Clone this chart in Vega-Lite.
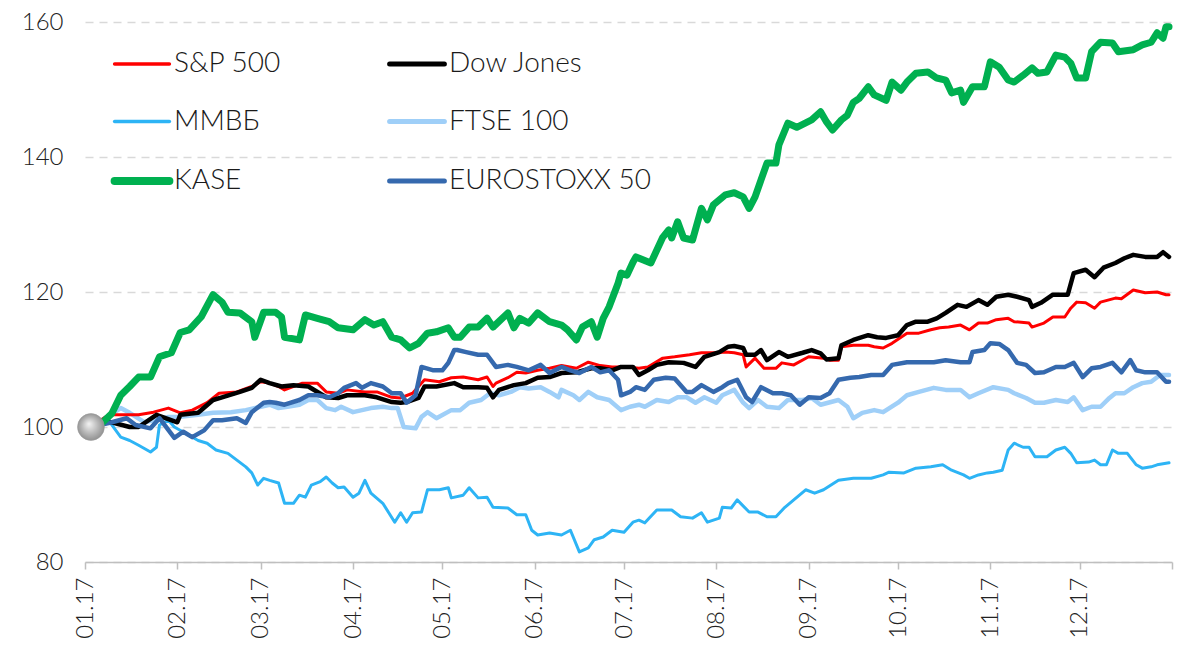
{
"$schema":"https://vega.github.io/schema/vega-lite/v6.json",
"width":1087,"height":540,
"autosize":{"type":"none"},
"padding":{"left":85,"top":22,"right":23,"bottom":86},
"background":"#ffffff",
"config":{"view":{"stroke":null},"font":"Lato"},
"datasets":{
"ka":[{"d":"2017-01-03","v":100},{"d":"2017-01-06","v":100.3},{"d":"2017-01-10","v":102},{"d":"2017-01-13","v":104.7},{"d":"2017-01-16","v":106},{"d":"2017-01-19","v":107.4},{"d":"2017-01-23","v":107.4},{"d":"2017-01-26","v":110.4},{"d":"2017-01-30","v":111},{"d":"2017-02-02","v":114},{"d":"2017-02-05","v":114.4},{"d":"2017-02-09","v":116.3},{"d":"2017-02-13","v":119.6},{"d":"2017-02-16","v":118.5},{"d":"2017-02-18","v":117},{"d":"2017-02-22","v":116.9},{"d":"2017-02-26","v":115.6},{"d":"2017-02-27","v":113.3},{"d":"2017-03-02","v":117},{"d":"2017-03-06","v":117},{"d":"2017-03-08","v":116.3},{"d":"2017-03-09","v":113.3},{"d":"2017-03-14","v":112.9},{"d":"2017-03-16","v":116.6},{"d":"2017-03-20","v":116.1},{"d":"2017-03-24","v":115.6},{"d":"2017-03-27","v":114.7},{"d":"2017-04-01","v":114.4},{"d":"2017-04-05","v":115.9},{"d":"2017-04-08","v":115.1},{"d":"2017-04-11","v":115.6},{"d":"2017-04-14","v":113.3},{"d":"2017-04-17","v":112.9},{"d":"2017-04-20","v":111.7},{"d":"2017-04-23","v":112.4},{"d":"2017-04-26","v":113.9},{"d":"2017-04-29","v":114.1},{"d":"2017-05-03","v":114.7},{"d":"2017-05-05","v":113.3},{"d":"2017-05-07","v":113.3},{"d":"2017-05-10","v":114.8},{"d":"2017-05-13","v":114.8},{"d":"2017-05-16","v":116.1},{"d":"2017-05-18","v":114.8},{"d":"2017-05-23","v":116.9},{"d":"2017-05-25","v":114.7},{"d":"2017-05-27","v":116.1},{"d":"2017-05-30","v":115.4},{"d":"2017-06-02","v":116.9},{"d":"2017-06-06","v":115.6},{"d":"2017-06-10","v":115.1},{"d":"2017-06-12","v":114.4},{"d":"2017-06-15","v":112.9},{"d":"2017-06-17","v":114.8},{"d":"2017-06-20","v":115.6},{"d":"2017-06-22","v":113.3},{"d":"2017-06-24","v":116.1},{"d":"2017-06-26","v":117.8},{"d":"2017-06-29","v":121.3},{"d":"2017-06-30","v":122.8},{"d":"2017-07-02","v":122.5},{"d":"2017-07-04","v":124.4},{"d":"2017-07-05","v":125.2},{"d":"2017-07-10","v":124.3},{"d":"2017-07-14","v":128.1},{"d":"2017-07-16","v":129.2},{"d":"2017-07-17","v":128},{"d":"2017-07-19","v":130.4},{"d":"2017-07-21","v":128},{"d":"2017-07-24","v":127.7},{"d":"2017-07-27","v":132.4},{"d":"2017-07-29","v":130.7},{"d":"2017-07-31","v":132.9},{"d":"2017-08-04","v":134.4},{"d":"2017-08-07","v":134.7},{"d":"2017-08-10","v":134.1},{"d":"2017-08-12","v":132.4},{"d":"2017-08-14","v":134.1},{"d":"2017-08-16","v":136.6},{"d":"2017-08-18","v":139.1},{"d":"2017-08-21","v":139.1},{"d":"2017-08-22","v":141.8},{"d":"2017-08-25","v":145},{"d":"2017-08-28","v":144.4},{"d":"2017-09-02","v":145.5},{"d":"2017-09-05","v":146.7},{"d":"2017-09-07","v":145.2},{"d":"2017-09-09","v":144},{"d":"2017-09-12","v":145.5},{"d":"2017-09-14","v":146.2},{"d":"2017-09-16","v":148.1},{"d":"2017-09-18","v":148.7},{"d":"2017-09-21","v":150.4},{"d":"2017-09-23","v":149.2},{"d":"2017-09-27","v":148.4},{"d":"2017-09-29","v":151.1},{"d":"2017-10-02","v":149.9},{"d":"2017-10-04","v":151.1},{"d":"2017-10-07","v":152.4},{"d":"2017-10-11","v":152.6},{"d":"2017-10-14","v":151.7},{"d":"2017-10-17","v":151.4},{"d":"2017-10-19","v":149.5},{"d":"2017-10-22","v":149.9},{"d":"2017-10-23","v":148.1},{"d":"2017-10-26","v":150.4},{"d":"2017-10-30","v":150.4},{"d":"2017-11-01","v":154.1},{"d":"2017-11-04","v":153.3},{"d":"2017-11-07","v":151.4},{"d":"2017-11-09","v":151.1},{"d":"2017-11-12","v":152.1},{"d":"2017-11-15","v":153.2},{"d":"2017-11-17","v":152.4},{"d":"2017-11-20","v":152.6},{"d":"2017-11-23","v":155.1},{"d":"2017-11-26","v":154.8},{"d":"2017-11-28","v":153.9},{"d":"2017-11-30","v":151.7},{"d":"2017-12-03","v":151.7},{"d":"2017-12-05","v":155.6},{"d":"2017-12-08","v":157},{"d":"2017-12-12","v":156.9},{"d":"2017-12-14","v":155.6},{"d":"2017-12-19","v":155.9},{"d":"2017-12-22","v":156.6},{"d":"2017-12-25","v":157},{"d":"2017-12-27","v":158.4},{"d":"2017-12-29","v":157.6},{"d":"2017-12-30","v":159.3},{"d":"2017-12-31","v":159.3}],
"sp":[{"d":"2017-01-03","v":100},{"d":"2017-01-09","v":101.8},{"d":"2017-01-19","v":101.8},{"d":"2017-01-24","v":102.2},{"d":"2017-01-29","v":102.8},{"d":"2017-02-02","v":102.1},{"d":"2017-02-06","v":102.5},{"d":"2017-02-11","v":103.6},{"d":"2017-02-15","v":105},{"d":"2017-02-21","v":105.2},{"d":"2017-02-26","v":106},{"d":"2017-03-01","v":106.7},{"d":"2017-03-04","v":106.5},{"d":"2017-03-07","v":106},{"d":"2017-03-09","v":105.5},{"d":"2017-03-15","v":106.5},{"d":"2017-03-20","v":106.5},{"d":"2017-03-23","v":105.2},{"d":"2017-03-27","v":105},{"d":"2017-03-30","v":105.5},{"d":"2017-04-05","v":105.2},{"d":"2017-04-09","v":105.2},{"d":"2017-04-14","v":104.4},{"d":"2017-04-17","v":104.3},{"d":"2017-04-21","v":105},{"d":"2017-04-25","v":107},{"d":"2017-04-30","v":106.7},{"d":"2017-05-04","v":107.3},{"d":"2017-05-08","v":107.4},{"d":"2017-05-13","v":107},{"d":"2017-05-16","v":107.4},{"d":"2017-05-18","v":106},{"d":"2017-05-19","v":106.5},{"d":"2017-05-23","v":107.3},{"d":"2017-05-26","v":108.1},{"d":"2017-05-29","v":108},{"d":"2017-06-02","v":108.4},{"d":"2017-06-06","v":108.7},{"d":"2017-06-10","v":109.1},{"d":"2017-06-15","v":108.7},{"d":"2017-06-19","v":109.6},{"d":"2017-06-23","v":109.1},{"d":"2017-06-27","v":108.9},{"d":"2017-07-02","v":108.9},{"d":"2017-07-06","v":108.7},{"d":"2017-07-09","v":108.9},{"d":"2017-07-14","v":110.2},{"d":"2017-07-18","v":110.4},{"d":"2017-07-23","v":110.7},{"d":"2017-07-27","v":111},{"d":"2017-08-01","v":111},{"d":"2017-08-04","v":111.1},{"d":"2017-08-07","v":111},{"d":"2017-08-10","v":110.7},{"d":"2017-08-11","v":108.9},{"d":"2017-08-14","v":110.2},{"d":"2017-08-17","v":108.7},{"d":"2017-08-21","v":108.7},{"d":"2017-08-23","v":109.5},{"d":"2017-08-27","v":109.2},{"d":"2017-09-01","v":110.4},{"d":"2017-09-06","v":110.2},{"d":"2017-09-08","v":109.9},{"d":"2017-09-11","v":109.9},{"d":"2017-09-12","v":111.9},{"d":"2017-09-16","v":112.1},{"d":"2017-09-21","v":112.1},{"d":"2017-09-23","v":111.9},{"d":"2017-09-26","v":111.7},{"d":"2017-09-29","v":112.4},{"d":"2017-10-04","v":113.9},{"d":"2017-10-08","v":113.9},{"d":"2017-10-12","v":114.4},{"d":"2017-10-15","v":114.7},{"d":"2017-10-18","v":114.8},{"d":"2017-10-22","v":115.1},{"d":"2017-10-25","v":114.4},{"d":"2017-10-28","v":115.4},{"d":"2017-10-31","v":115.4},{"d":"2017-11-03","v":115.9},{"d":"2017-11-07","v":116.1},{"d":"2017-11-09","v":115.6},{"d":"2017-11-14","v":115.4},{"d":"2017-11-15","v":114.8},{"d":"2017-11-19","v":115.4},{"d":"2017-11-22","v":116.3},{"d":"2017-11-26","v":116.3},{"d":"2017-11-28","v":117.6},{"d":"2017-11-30","v":118.5},{"d":"2017-12-03","v":118.4},{"d":"2017-12-06","v":117.6},{"d":"2017-12-08","v":118.5},{"d":"2017-12-13","v":119.1},{"d":"2017-12-15","v":119},{"d":"2017-12-19","v":120.3},{"d":"2017-12-23","v":119.9},{"d":"2017-12-27","v":120},{"d":"2017-12-30","v":119.6},{"d":"2017-12-31","v":119.6}],
"dj":[{"d":"2017-01-03","v":100},{"d":"2017-01-09","v":100.8},{"d":"2017-01-16","v":100},{"d":"2017-01-19","v":100},{"d":"2017-01-25","v":101.8},{"d":"2017-02-01","v":100.7},{"d":"2017-02-02","v":101.8},{"d":"2017-02-08","v":102.1},{"d":"2017-02-13","v":104},{"d":"2017-02-16","v":104.4},{"d":"2017-02-22","v":105.2},{"d":"2017-02-26","v":105.8},{"d":"2017-03-01","v":107},{"d":"2017-03-04","v":106.5},{"d":"2017-03-08","v":106},{"d":"2017-03-12","v":106.2},{"d":"2017-03-17","v":106},{"d":"2017-03-23","v":104.4},{"d":"2017-03-27","v":104.3},{"d":"2017-03-30","v":104.7},{"d":"2017-04-05","v":104.7},{"d":"2017-04-09","v":104.4},{"d":"2017-04-14","v":103.7},{"d":"2017-04-17","v":103.6},{"d":"2017-04-19","v":103.7},{"d":"2017-04-23","v":104.3},{"d":"2017-04-25","v":106},{"d":"2017-04-29","v":106},{"d":"2017-05-05","v":106.5},{"d":"2017-05-08","v":105.9},{"d":"2017-05-13","v":105.9},{"d":"2017-05-16","v":105.8},{"d":"2017-05-18","v":104.4},{"d":"2017-05-20","v":105.5},{"d":"2017-05-25","v":106.2},{"d":"2017-05-29","v":106.5},{"d":"2017-06-02","v":107.3},{"d":"2017-06-06","v":107.4},{"d":"2017-06-10","v":108},{"d":"2017-06-15","v":108.1},{"d":"2017-06-20","v":108.7},{"d":"2017-06-23","v":108.7},{"d":"2017-06-27","v":108.4},{"d":"2017-06-30","v":108.9},{"d":"2017-07-04","v":108.9},{"d":"2017-07-06","v":107.7},{"d":"2017-07-09","v":108.4},{"d":"2017-07-12","v":109.2},{"d":"2017-07-16","v":109.6},{"d":"2017-07-21","v":109.5},{"d":"2017-07-25","v":108.9},{"d":"2017-07-28","v":110.4},{"d":"2017-08-02","v":111.1},{"d":"2017-08-05","v":111.9},{"d":"2017-08-07","v":112},{"d":"2017-08-10","v":111.7},{"d":"2017-08-11","v":110.7},{"d":"2017-08-14","v":110.7},{"d":"2017-08-16","v":111.4},{"d":"2017-08-18","v":109.9},{"d":"2017-08-22","v":111.1},{"d":"2017-08-25","v":110.4},{"d":"2017-08-30","v":111},{"d":"2017-09-02","v":111.4},{"d":"2017-09-05","v":110.9},{"d":"2017-09-07","v":110},{"d":"2017-09-11","v":110.2},{"d":"2017-09-12","v":112.1},{"d":"2017-09-16","v":112.9},{"d":"2017-09-21","v":113.6},{"d":"2017-09-24","v":113.3},{"d":"2017-09-27","v":113.2},{"d":"2017-10-01","v":113.6},{"d":"2017-10-04","v":115.1},{"d":"2017-10-07","v":115.6},{"d":"2017-10-11","v":115.6},{"d":"2017-10-14","v":116.1},{"d":"2017-10-17","v":116.9},{"d":"2017-10-21","v":118.1},{"d":"2017-10-24","v":117.8},{"d":"2017-10-28","v":118.8},{"d":"2017-10-31","v":118.1},{"d":"2017-11-03","v":119.3},{"d":"2017-11-07","v":119.6},{"d":"2017-11-10","v":119.3},{"d":"2017-11-14","v":118.8},{"d":"2017-11-15","v":117.8},{"d":"2017-11-18","v":118.4},{"d":"2017-11-22","v":119.6},{"d":"2017-11-27","v":119.6},{"d":"2017-11-29","v":122.8},{"d":"2017-12-03","v":123.3},{"d":"2017-12-06","v":122.2},{"d":"2017-12-09","v":123.6},{"d":"2017-12-13","v":124.3},{"d":"2017-12-16","v":125},{"d":"2017-12-19","v":125.5},{"d":"2017-12-23","v":125.2},{"d":"2017-12-27","v":125.2},{"d":"2017-12-29","v":125.9},{"d":"2017-12-31","v":125.2}],
"eu":[{"d":"2017-01-03","v":100},{"d":"2017-01-10","v":100.7},{"d":"2017-01-15","v":101.3},{"d":"2017-01-18","v":100.3},{"d":"2017-01-23","v":99.8},{"d":"2017-01-26","v":101.3},{"d":"2017-01-31","v":98.4},{"d":"2017-02-03","v":99.3},{"d":"2017-02-06","v":98.5},{"d":"2017-02-10","v":99.5},{"d":"2017-02-13","v":101},{"d":"2017-02-16","v":101},{"d":"2017-02-21","v":101.3},{"d":"2017-02-24","v":100.6},{"d":"2017-02-26","v":102.2},{"d":"2017-03-02","v":103.6},{"d":"2017-03-04","v":103.7},{"d":"2017-03-06","v":103.6},{"d":"2017-03-09","v":103.3},{"d":"2017-03-14","v":104},{"d":"2017-03-17","v":104.7},{"d":"2017-03-20","v":104.7},{"d":"2017-03-24","v":104.4},{"d":"2017-03-27","v":105},{"d":"2017-03-29","v":105.8},{"d":"2017-04-02","v":106.5},{"d":"2017-04-04","v":105.8},{"d":"2017-04-07","v":106.5},{"d":"2017-04-11","v":106},{"d":"2017-04-14","v":105},{"d":"2017-04-17","v":105},{"d":"2017-04-19","v":103.6},{"d":"2017-04-22","v":104.7},{"d":"2017-04-24","v":108.9},{"d":"2017-04-28","v":108.4},{"d":"2017-05-01","v":108.4},{"d":"2017-05-03","v":109.5},{"d":"2017-05-05","v":111.4},{"d":"2017-05-06","v":111.4},{"d":"2017-05-09","v":111.1},{"d":"2017-05-13","v":110.7},{"d":"2017-05-16","v":110.7},{"d":"2017-05-19","v":108.9},{"d":"2017-05-23","v":109.2},{"d":"2017-05-26","v":108.9},{"d":"2017-05-30","v":108.4},{"d":"2017-06-03","v":109.2},{"d":"2017-06-06","v":108},{"d":"2017-06-10","v":108.9},{"d":"2017-06-13","v":108.4},{"d":"2017-06-16","v":108},{"d":"2017-06-20","v":108.9},{"d":"2017-06-23","v":108.1},{"d":"2017-06-26","v":108.4},{"d":"2017-06-29","v":107},{"d":"2017-06-30","v":104.7},{"d":"2017-07-03","v":105.2},{"d":"2017-07-05","v":105.9},{"d":"2017-07-08","v":105.5},{"d":"2017-07-11","v":107},{"d":"2017-07-15","v":107.3},{"d":"2017-07-18","v":107.2},{"d":"2017-07-22","v":105.2},{"d":"2017-07-24","v":105.2},{"d":"2017-07-27","v":106.2},{"d":"2017-07-31","v":105.2},{"d":"2017-08-03","v":105.9},{"d":"2017-08-05","v":106.5},{"d":"2017-08-08","v":107},{"d":"2017-08-11","v":104.4},{"d":"2017-08-13","v":103.7},{"d":"2017-08-16","v":105.9},{"d":"2017-08-20","v":105},{"d":"2017-08-23","v":105},{"d":"2017-08-26","v":104.7},{"d":"2017-08-29","v":103.3},{"d":"2017-09-01","v":104.4},{"d":"2017-09-05","v":104.3},{"d":"2017-09-08","v":105},{"d":"2017-09-11","v":107},{"d":"2017-09-15","v":107.3},{"d":"2017-09-18","v":107.4},{"d":"2017-09-22","v":107.7},{"d":"2017-09-26","v":107.7},{"d":"2017-09-29","v":109.2},{"d":"2017-10-04","v":109.6},{"d":"2017-10-08","v":109.6},{"d":"2017-10-13","v":109.6},{"d":"2017-10-17","v":109.9},{"d":"2017-10-22","v":109.6},{"d":"2017-10-25","v":109.6},{"d":"2017-10-26","v":111.1},{"d":"2017-10-30","v":111.4},{"d":"2017-11-01","v":112.4},{"d":"2017-11-04","v":112.3},{"d":"2017-11-07","v":111.4},{"d":"2017-11-10","v":109.5},{"d":"2017-11-13","v":109.2},{"d":"2017-11-16","v":108},{"d":"2017-11-19","v":108.1},{"d":"2017-11-23","v":108.9},{"d":"2017-11-26","v":108.9},{"d":"2017-11-29","v":109.5},{"d":"2017-12-02","v":107.4},{"d":"2017-12-05","v":108.7},{"d":"2017-12-08","v":108.9},{"d":"2017-12-12","v":109.5},{"d":"2017-12-15","v":108.1},{"d":"2017-12-18","v":109.9},{"d":"2017-12-20","v":108.4},{"d":"2017-12-23","v":108.1},{"d":"2017-12-27","v":108.1},{"d":"2017-12-30","v":106.7},{"d":"2017-12-31","v":106.7}],
"ft":[{"d":"2017-01-03","v":100},{"d":"2017-01-13","v":102.8},{"d":"2017-01-16","v":102.1},{"d":"2017-01-21","v":100.7},{"d":"2017-01-29","v":101.5},{"d":"2017-02-02","v":101.5},{"d":"2017-02-08","v":101.8},{"d":"2017-02-13","v":102.1},{"d":"2017-02-19","v":102.2},{"d":"2017-02-24","v":102.5},{"d":"2017-03-01","v":103},{"d":"2017-03-04","v":103.3},{"d":"2017-03-07","v":102.8},{"d":"2017-03-10","v":103},{"d":"2017-03-14","v":103.3},{"d":"2017-03-17","v":104},{"d":"2017-03-20","v":104},{"d":"2017-03-23","v":102.8},{"d":"2017-03-26","v":102.5},{"d":"2017-03-28","v":103},{"d":"2017-04-01","v":102.2},{"d":"2017-04-04","v":102.5},{"d":"2017-04-07","v":102.8},{"d":"2017-04-11","v":103},{"d":"2017-04-14","v":102.8},{"d":"2017-04-16","v":102.8},{"d":"2017-04-18","v":100},{"d":"2017-04-22","v":99.8},{"d":"2017-04-24","v":101.5},{"d":"2017-04-26","v":102.2},{"d":"2017-04-29","v":101.3},{"d":"2017-05-04","v":102.5},{"d":"2017-05-07","v":102.5},{"d":"2017-05-10","v":103.6},{"d":"2017-05-14","v":104},{"d":"2017-05-17","v":105},{"d":"2017-05-20","v":104.7},{"d":"2017-05-24","v":105.2},{"d":"2017-05-27","v":105.9},{"d":"2017-05-30","v":105.7},{"d":"2017-06-03","v":105.9},{"d":"2017-06-06","v":105.2},{"d":"2017-06-09","v":104.4},{"d":"2017-06-10","v":105.5},{"d":"2017-06-14","v":104.7},{"d":"2017-06-16","v":104},{"d":"2017-06-19","v":105.2},{"d":"2017-06-22","v":104.4},{"d":"2017-06-26","v":104},{"d":"2017-06-30","v":102.5},{"d":"2017-07-03","v":103},{"d":"2017-07-06","v":103.3},{"d":"2017-07-08","v":103},{"d":"2017-07-12","v":104},{"d":"2017-07-16","v":103.7},{"d":"2017-07-19","v":104.4},{"d":"2017-07-22","v":104.4},{"d":"2017-07-25","v":103.6},{"d":"2017-07-28","v":104.4},{"d":"2017-08-01","v":103.6},{"d":"2017-08-03","v":104.7},{"d":"2017-08-07","v":105.5},{"d":"2017-08-10","v":103.6},{"d":"2017-08-12","v":102.8},{"d":"2017-08-15","v":104},{"d":"2017-08-18","v":103},{"d":"2017-08-22","v":102.8},{"d":"2017-08-25","v":104},{"d":"2017-08-30","v":104},{"d":"2017-09-02","v":104.3},{"d":"2017-09-05","v":103.3},{"d":"2017-09-11","v":104},{"d":"2017-09-14","v":103},{"d":"2017-09-16","v":101.3},{"d":"2017-09-19","v":102.1},{"d":"2017-09-23","v":102.5},{"d":"2017-09-26","v":102.2},{"d":"2017-10-01","v":103.6},{"d":"2017-10-04","v":104.7},{"d":"2017-10-08","v":105.2},{"d":"2017-10-13","v":105.8},{"d":"2017-10-17","v":105.5},{"d":"2017-10-22","v":105.5},{"d":"2017-10-25","v":104.4},{"d":"2017-10-28","v":105},{"d":"2017-11-02","v":105.9},{"d":"2017-11-07","v":105.5},{"d":"2017-11-09","v":105},{"d":"2017-11-13","v":104.3},{"d":"2017-11-16","v":103.6},{"d":"2017-11-19","v":103.6},{"d":"2017-11-23","v":104},{"d":"2017-11-27","v":103.7},{"d":"2017-11-29","v":104.4},{"d":"2017-12-02","v":102.5},{"d":"2017-12-05","v":103},{"d":"2017-12-08","v":103},{"d":"2017-12-11","v":104.3},{"d":"2017-12-13","v":105},{"d":"2017-12-16","v":105},{"d":"2017-12-19","v":105.9},{"d":"2017-12-22","v":106.5},{"d":"2017-12-25","v":106.7},{"d":"2017-12-28","v":107.7},{"d":"2017-12-31","v":107.7}],
"mm":[{"d":"2017-01-03","v":100},{"d":"2017-01-09","v":101},{"d":"2017-01-10","v":100.3},{"d":"2017-01-13","v":98.5},{"d":"2017-01-16","v":98},{"d":"2017-01-19","v":97.3},{"d":"2017-01-23","v":96.3},{"d":"2017-01-25","v":97},{"d":"2017-01-26","v":100.3},{"d":"2017-01-29","v":101},{"d":"2017-01-31","v":100},{"d":"2017-02-04","v":99},{"d":"2017-02-08","v":98},{"d":"2017-02-11","v":97.6},{"d":"2017-02-14","v":96.6},{"d":"2017-02-18","v":96.1},{"d":"2017-02-21","v":95.1},{"d":"2017-02-24","v":94.1},{"d":"2017-02-26","v":93.2},{"d":"2017-02-28","v":91.4},{"d":"2017-03-02","v":92.4},{"d":"2017-03-04","v":92.1},{"d":"2017-03-07","v":91.7},{"d":"2017-03-09","v":88.7},{"d":"2017-03-12","v":88.7},{"d":"2017-03-14","v":89.9},{"d":"2017-03-16","v":89.6},{"d":"2017-03-18","v":91.4},{"d":"2017-03-21","v":91.9},{"d":"2017-03-23","v":92.6},{"d":"2017-03-25","v":91.7},{"d":"2017-03-27","v":91},{"d":"2017-03-29","v":91.1},{"d":"2017-04-01","v":89.6},{"d":"2017-04-03","v":90.2},{"d":"2017-04-05","v":92.1},{"d":"2017-04-07","v":90.2},{"d":"2017-04-11","v":88.7},{"d":"2017-04-13","v":87.3},{"d":"2017-04-15","v":85.9},{"d":"2017-04-17","v":87.3},{"d":"2017-04-19","v":85.9},{"d":"2017-04-21","v":87.3},{"d":"2017-04-24","v":87.4},{"d":"2017-04-26","v":90.7},{"d":"2017-04-30","v":90.7},{"d":"2017-05-03","v":91},{"d":"2017-05-04","v":89.5},{"d":"2017-05-08","v":89.9},{"d":"2017-05-10","v":91},{"d":"2017-05-13","v":89.5},{"d":"2017-05-16","v":89.6},{"d":"2017-05-18","v":88.1},{"d":"2017-05-23","v":88},{"d":"2017-05-26","v":87},{"d":"2017-05-29","v":87},{"d":"2017-05-31","v":84.7},{"d":"2017-06-02","v":84},{"d":"2017-06-06","v":84.3},{"d":"2017-06-10","v":84},{"d":"2017-06-13","v":84.7},{"d":"2017-06-16","v":81.5},{"d":"2017-06-19","v":82.1},{"d":"2017-06-21","v":83.3},{"d":"2017-06-24","v":83.7},{"d":"2017-06-27","v":84.7},{"d":"2017-07-01","v":84.4},{"d":"2017-07-04","v":85.9},{"d":"2017-07-06","v":86.2},{"d":"2017-07-08","v":85.8},{"d":"2017-07-12","v":87.7},{"d":"2017-07-17","v":87.7},{"d":"2017-07-20","v":86.7},{"d":"2017-07-24","v":86.5},{"d":"2017-07-27","v":87.3},{"d":"2017-07-29","v":85.9},{"d":"2017-08-02","v":86.5},{"d":"2017-08-03","v":88.1},{"d":"2017-08-06","v":88},{"d":"2017-08-08","v":89.2},{"d":"2017-08-12","v":87.4},{"d":"2017-08-15","v":87.4},{"d":"2017-08-18","v":86.7},{"d":"2017-08-21","v":86.7},{"d":"2017-08-24","v":88.1},{"d":"2017-08-27","v":89.2},{"d":"2017-08-31","v":90.7},{"d":"2017-09-03","v":90.2},{"d":"2017-09-06","v":90.7},{"d":"2017-09-11","v":92.1},{"d":"2017-09-16","v":92.4},{"d":"2017-09-22","v":92.4},{"d":"2017-09-26","v":92.9},{"d":"2017-09-28","v":93.3},{"d":"2017-10-03","v":93.2},{"d":"2017-10-07","v":93.9},{"d":"2017-10-12","v":94.1},{"d":"2017-10-16","v":94.4},{"d":"2017-10-19","v":93.6},{"d":"2017-10-23","v":92.9},{"d":"2017-10-25","v":92.4},{"d":"2017-10-28","v":92.9},{"d":"2017-10-31","v":93.2},{"d":"2017-11-02","v":93.3},{"d":"2017-11-05","v":93.6},{"d":"2017-11-07","v":96.6},{"d":"2017-11-09","v":97.6},{"d":"2017-11-12","v":97},{"d":"2017-11-14","v":97},{"d":"2017-11-16","v":95.6},{"d":"2017-11-20","v":95.6},{"d":"2017-11-23","v":96.6},{"d":"2017-11-26","v":97},{"d":"2017-11-28","v":96.1},{"d":"2017-11-30","v":94.7},{"d":"2017-12-04","v":94.8},{"d":"2017-12-06","v":95.1},{"d":"2017-12-08","v":94.4},{"d":"2017-12-10","v":94.4},{"d":"2017-12-12","v":96.6},{"d":"2017-12-14","v":96.1},{"d":"2017-12-17","v":96.1},{"d":"2017-12-20","v":94.4},{"d":"2017-12-22","v":93.9},{"d":"2017-12-25","v":94.1},{"d":"2017-12-27","v":94.4},{"d":"2017-12-31","v":94.7}],
"start":[{"d":"2017-01-03","v":100}]
},
"encoding":{
"x":{"field":"d","type":"temporal","scale":{"domain":[{"year":2017,"month":1,"date":1},{"year":2018,"month":1,"date":1}],"nice":false},
"axis":{"title":null,"grid":false,"values":[{"year":2017,"month":1,"date":1},{"year":2017,"month":2,"date":1},{"year":2017,"month":3,"date":1},{"year":2017,"month":4,"date":1},{"year":2017,"month":5,"date":1},{"year":2017,"month":6,"date":1},{"year":2017,"month":7,"date":1},{"year":2017,"month":8,"date":1},{"year":2017,"month":9,"date":1},{"year":2017,"month":10,"date":1},{"year":2017,"month":11,"date":1},{"year":2017,"month":12,"date":1},{"year":2018,"month":1,"date":1}],
"labelExpr":"year(datum.value) >= 2018 ? '' : timeFormat(datum.value, '%m.%y')","labelAngle":-90,"labelFont":"Lato","labelFontWeight":300,"labelFontSize":24,"labelColor":"#222222","labelPadding":8,"tickSize":7,"tickColor":"#bfbfbf","tickWidth":1.5,"domainColor":"#bfbfbf","domainWidth":1.5,"labelOverlap":false,"labelBound":false,"labelFlush":false}},
"y":{"field":"v","type":"quantitative","scale":{"domain":[80,160],"nice":false,"zero":false},
"axis":{"title":null,"values":[80,100,120,140,160],"ticks":false,"domain":false,"grid":true,"gridColor":"#d9d9d9","gridDash":[8,6],"gridWidth":1.5,"labelFont":"Lato","labelFontWeight":300,"labelFontSize":24,"labelColor":"#222222","labelPadding":22}}
},
"layer":[
{"data":{"name":"mm"},"mark":{"type":"line","strokeWidth":3,"strokeJoin":"round","strokeCap":"round"},
 "encoding":{"color":{"datum":"ММВБ","scale":{"domain":["S&P 500","ММВБ","KASE","Dow Jones","FTSE 100","EUROSTOXX 50"],"range":["#ff0000","#2db4f5","#00b050","#000000","#9fcff8","#3569ae"]},
 "legend":{"title":null,"orient":"none","legendX":43,"legendY":28,"columns":2,"symbolType":"stroke","symbolSize":3000,"symbolStrokeWidth":4,"labelFont":"Lato","labelFontWeight":300,"labelFontSize":28,"labelColor":"#1a1a1a","labelOffset":18,"rowPadding":29.5,"columnPadding":97,"labelLimit":400,
 "encode":{"symbols":{"update":{"strokeCap":{"value":"round"},"strokeWidth":{"signal":"datum.value === 'KASE' ? 8 : (datum.value === 'S&P 500' || datum.value === 'ММВБ') ? 3.5 : 5"}}}}}}}},
{"data":{"name":"ft"},"mark":{"type":"line","strokeWidth":4.5,"strokeJoin":"round","strokeCap":"round"},"encoding":{"color":{"datum":"FTSE 100"}}},
{"data":{"name":"sp"},"mark":{"type":"line","strokeWidth":3,"strokeJoin":"round","strokeCap":"round"},"encoding":{"color":{"datum":"S&P 500"}}},
{"data":{"name":"dj"},"mark":{"type":"line","strokeWidth":4.5,"strokeJoin":"round","strokeCap":"round"},"encoding":{"color":{"datum":"Dow Jones"}}},
{"data":{"name":"eu"},"mark":{"type":"line","strokeWidth":4.5,"strokeJoin":"round","strokeCap":"round"},"encoding":{"color":{"datum":"EUROSTOXX 50"}}},
{"data":{"name":"ka"},"mark":{"type":"line","strokeWidth":7,"strokeJoin":"round","strokeCap":"round"},"encoding":{"color":{"datum":"KASE"}}},
{"data":{"name":"start"},"mark":{"type":"point","shape":"circle","filled":true,"size":720,"opacity":1,"strokeWidth":0.6,"stroke":"#9a9a9a",
 "fill":{"gradient":"radial","x1":0.42,"y1":0.38,"r1":0,"x2":0.5,"y2":0.5,"r2":0.55,"stops":[{"offset":0,"color":"#f4f4f4"},{"offset":0.55,"color":"#b8b8b8"},{"offset":1,"color":"#8a8a8a"}]}}}
]
}
